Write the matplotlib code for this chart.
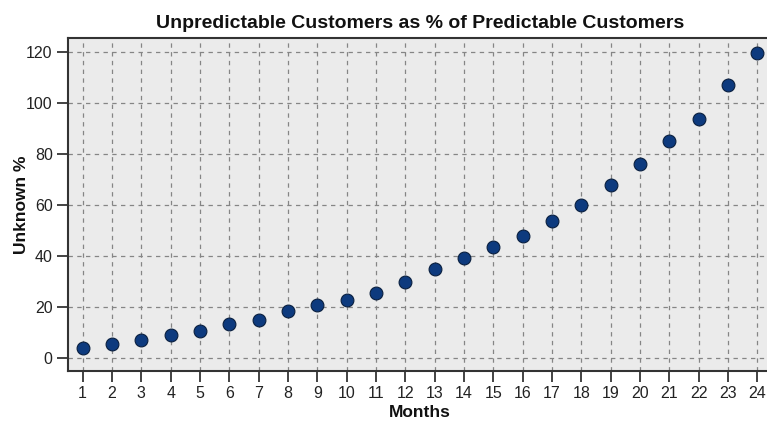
import matplotlib
matplotlib.use("Agg")
import matplotlib.pyplot as plt

months = list(range(1, 25))
unknown_pct = [3.8, 5.5, 7.1, 9.1, 10.6, 13.3, 14.9, 18.2, 20.7, 22.5, 25.4, 29.7,
               34.9, 39.3, 43.4, 47.8, 53.8, 60.0, 67.8, 76.1, 85.0, 93.7, 107.1, 119.7]
y_ticks = [0, 20, 40, 60, 80, 100, 120]

plt.rcParams['font.family'] = ['Liberation Sans', 'DejaVu Sans']

fig = plt.figure(figsize=(7.67, 4.22), dpi=100)
W, H = 767, 422
left, right, top, bottom = 68, 772, 38, 371
ax = fig.add_axes([left / W, 1 - bottom / H, (right - left) / W, (bottom - top) / H])
ax.set_facecolor('#ebebeb')

ax.scatter(months, unknown_pct, s=85, color='#0d3a7e', edgecolors='#0a1f3f',
           linewidths=0.8, zorder=3)

ax.set_xlim(0.5, 24.5)
ax.set_ylim(-5.2, 125.5)
ax.set_xticks(months)
ax.set_yticks(y_ticks)
ax.tick_params(axis='both', direction='out', length=8, width=1.2, color='#222222',
               labelsize=11.5, labelcolor='#222222', pad=3)
ax.grid(True, linestyle=(0, (3.5, 3.5)), color='#858585', linewidth=0.9, zorder=1)
ax.set_axisbelow(True)
for side in ['left', 'bottom', 'top']:
    ax.spines[side].set_color('#333333')
    ax.spines[side].set_linewidth(1.5)
ax.spines['right'].set_visible(False)

ax.set_title('Unpredictable Customers as % of Predictable Customers',
             fontsize=14, fontweight='bold', color='#111111', pad=7)
ax.set_xlabel('Months', fontsize=12.5, fontweight='bold', color='#111111', labelpad=3)
ax.set_ylabel('Unknown %', fontsize=12.5, fontweight='bold', color='#111111')
ax.yaxis.set_label_coords(-0.056, 0.5)

fig.savefig('out.png', dpi=100)
